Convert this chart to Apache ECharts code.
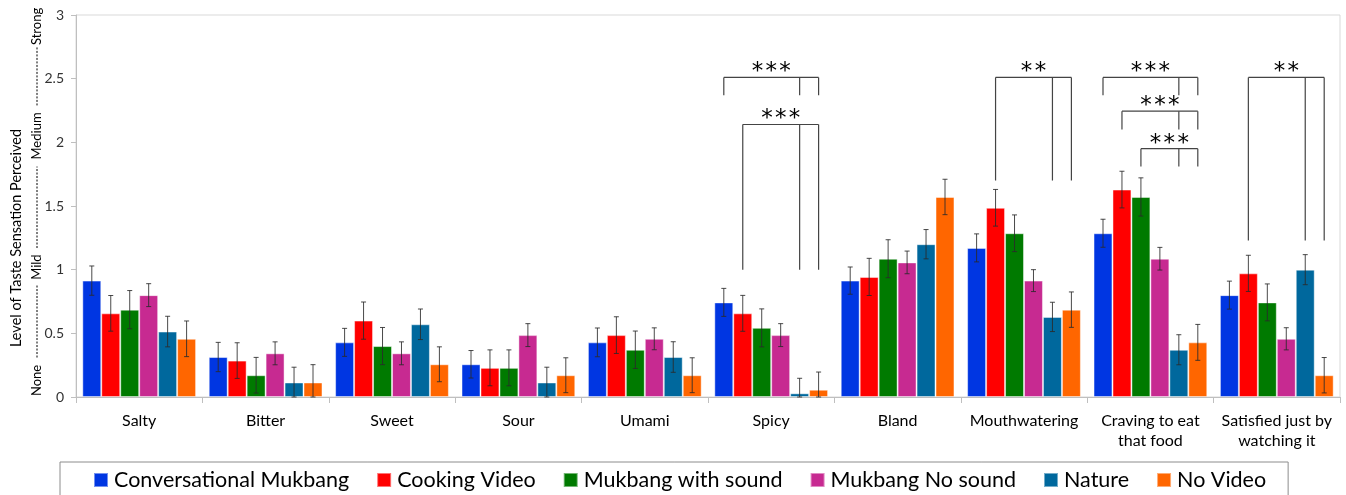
<!DOCTYPE html>
<html><head><meta charset="utf-8">
<script src="https://cdn.jsdelivr.net/npm/echarts@6/dist/echarts.min.js"></script>
<style>html,body{margin:0;padding:0;background:#fff}#c{width:1346px;height:495px}</style>
</head><body><div id="c"></div>
<script>
// ---------- DATA ----------
const categories = ['Salty','Bitter','Sweet','Sour','Umami','Spicy','Bland','Mouthwatering','Craving to eat\nthat food','Satisfied just by\nwatching it'];
const seriesNames = ['Conversational Mukbang','Cooking Video','Mukbang with sound','Mukbang No sound','Nature','No Video'];

const conversationalMukbang = [0.914,0.314,0.429,0.257,0.429,0.743,0.914,1.171,1.286,0.800];
const cookingVideo          = [0.657,0.286,0.600,0.229,0.486,0.657,0.943,1.486,1.629,0.971];
const mukbangWithSound      = [0.686,0.171,0.400,0.229,0.371,0.543,1.086,1.286,1.571,0.743];
const mukbangNoSound        = [0.800,0.343,0.343,0.486,0.457,0.486,1.057,0.914,1.086,0.457];
const nature                = [0.514,0.114,0.571,0.114,0.314,0.029,1.200,0.629,0.371,1.000];
const noVideo               = [0.457,0.114,0.257,0.171,0.171,0.057,1.571,0.686,0.429,0.171];

const errConversational = [0.115,0.115,0.110,0.108,0.113,0.110,0.107,0.110,0.110,0.110];
const errCooking        = [0.140,0.140,0.146,0.141,0.144,0.141,0.146,0.144,0.144,0.142];
const errWithSound      = [0.150,0.140,0.146,0.141,0.147,0.149,0.149,0.144,0.150,0.145];
const errNoSound        = [0.090,0.090,0.090,0.090,0.086,0.090,0.089,0.086,0.089,0.087];
const errNature         = [0.120,0.120,0.120,0.120,0.120,0.118,0.115,0.115,0.118,0.118];
const errNoVideo        = [0.140,0.140,0.137,0.137,0.137,0.139,0.139,0.139,0.141,0.139];

const yTickMin = 0, yTickMax = 3, yTickStep = 0.5;
const scaleWords = ['None','Mild','Medium','Strong'];
const yAxisTitle = 'Level of Taste Sensation Perceived';

// significance brackets: category index, bars [left, mid, right] (series indices), bracket level, leg end level, stars
const brackets = [
  {cat:5, bars:[0,4,5], y:2.51, leg:2.37, stars:'***'},
  {cat:5, bars:[1,4,5], y:2.14, leg:1.00, stars:'***'},
  {cat:7, bars:[1,4,5], y:2.51, leg:1.70, stars:'**'},
  {cat:8, bars:[0,4,5], y:2.51, leg:2.37, stars:'***'},
  {cat:8, bars:[1,4,5], y:2.245, leg:2.10, stars:'***'},
  {cat:8, bars:[2,4,5], y:1.95, leg:1.81, stars:'***'},
  {cat:9, bars:[1,4,5], y:2.51, leg:1.23, stars:'**'}
];

// ---------- STYLE / LAYOUT ----------
const colors = ['#0036E2','#FF0000','#007A00','#C72A91','#00689D','#FF6600'];
const FONT = 'Lato';
const CAT_GAP = 0.10;
const values = [conversationalMukbang,cookingVideo,mukbangWithSound,mukbangNoSound,nature,noVideo];
const errs = [errConversational,errCooking,errWithSound,errNoSound,errNature,errNoVideo];

function barCenter(api, cat, s){
  const c = api.coord([cat, 0]);
  const bw = api.size([1, 0])[0];
  const total = bw * (1 - CAT_GAP);
  const w = total / 6;
  return c[0] - total / 2 + w * (s + 0.5);
}

const errData = [];
values.forEach((arr, s) => arr.forEach((v, i) => errData.push([i, s, v, errs[s][i]])));

const chart = echarts.init(document.getElementById('c'));
const barSeries = seriesNames.map((n, s) => ({
  name: n, type: 'bar', data: values[s],
  barGap: '0%', barCategoryGap: (CAT_GAP*100)+'%',
  itemStyle: {color: colors[s], borderColor: 'rgba(255,255,255,0.45)', borderWidth: 1},
  emphasis: {disabled: true}
}));

chart.setOption({
  animation: false,
  color: colors,
  textStyle: {fontFamily: FONT},
  grid: {left: 76, right: 6, top: 15, bottom: 98, show: true, borderColor: '#d9d9d9', borderWidth: 1},
  legend: {
    data: seriesNames, left: 60, top: 462,
    padding: [7, 22, 20, 33],
    itemWidth: 14, itemHeight: 14, itemGap: 27, icon: 'rect',
    borderColor: '#8c8c8c', borderWidth: 1,
    textStyle: {fontSize: 21.5, color: '#000', fontFamily: FONT, padding: [0,0,0,1]}
  },
  xAxis: {
    type: 'category', data: categories,
    axisLine: {lineStyle: {color: '#bfbfbf'}},
    axisTick: {show: true, length: 6, lineStyle: {color: '#bfbfbf'}},
    axisLabel: {interval: 0, fontSize: 16, lineHeight: 20, color: '#000', margin: 14, fontFamily: FONT}
  },
  yAxis: {
    type: 'value', min: yTickMin, max: yTickMax, interval: yTickStep,
    axisLine: {show: true, lineStyle: {color: '#bfbfbf'}},
    axisTick: {show: true, length: 5, lineStyle: {color: '#bfbfbf'}},
    splitLine: {show: false},
    axisLabel: {fontSize: 14, color: '#333', margin: 12, fontFamily: FONT}
  },
  series: barSeries.concat([
    {
      type: 'custom', name: 'err', data: errData, encode: {x: 0, y: 2}, z: 5, silent: true,
      renderItem: function(params, api){
        const i = api.value(0), s = api.value(1), v = api.value(2), e = api.value(3);
        const x = barCenter(api, i, s);
        const top = api.coord([i, v + e])[1];
        const bot = api.coord([i, Math.max(0, v - e)])[1];
        const st = {stroke: '#2a2a2a', lineWidth: 1, opacity: 0.85};
        return {type: 'group', children: [
          {type: 'line', shape: {x1: x, y1: top, x2: x, y2: bot}, style: st},
          {type: 'line', shape: {x1: x - 2.5, y1: top, x2: x + 2.5, y2: top}, style: st},
          {type: 'line', shape: {x1: x - 2.5, y1: bot, x2: x + 2.5, y2: bot}, style: st}
        ]};
      }
    },
    {
      type: 'custom', name: 'sig', data: brackets.map(b => [b.cat, b.y]), encode: {x: 0, y: 1}, z: 6, silent: true,
      renderItem: function(params, api){
        const b = brackets[params.dataIndex];
        const xs = b.bars.map(s => barCenter(api, b.cat, s));
        const yb = api.coord([b.cat, b.y])[1];
        const yl = api.coord([b.cat, b.leg])[1];
        const st = {stroke: '#444', lineWidth: 1.2};
        const ch = [{type: 'line', shape: {x1: Math.min(...xs), y1: yb, x2: Math.max(...xs), y2: yb}, style: st}];
        xs.forEach(x => ch.push({type: 'line', shape: {x1: x, y1: yb, x2: x, y2: yl}, style: st}));
        ch.push({type: 'text', x: (Math.min(...xs) + Math.max(...xs)) / 2, y: yb - 5,
          style: {text: b.stars.split('').join('\u200A'), fontSize: 23, fontFamily: 'DejaVu Sans', fill: '#000', align: 'center', verticalAlign: 'middle'}});
        return {type: 'group', children: ch};
      }
    }
  ])
});

// side scale words (None / Mild / Medium / Strong) with dashed connectors
const wordLevels = [0.13, 1.02, 2.05, 2.91];
const dashLevels = [[0.31, 0.88], [1.17, 1.81], [2.29, 2.75]];
const py = v => chart.convertToPixel({yAxisIndex: 0}, v);
const g = [];
g.push({type: 'text', x: 16, y: 238, rotation: Math.PI / 2,
  style: {text: yAxisTitle, fontSize: 14.5, fontFamily: FONT, fill: '#000', align: 'center', verticalAlign: 'middle'}});
scaleWords.forEach((w, k) => g.push({type: 'text', x: 37, y: py(wordLevels[k]), rotation: Math.PI / 2,
  style: {text: w, fontSize: 13, fontFamily: FONT, fill: '#000', align: 'center', verticalAlign: 'middle'}}));
dashLevels.forEach(d => g.push({type: 'line', shape: {x1: 37, y1: py(d[0]), x2: 37, y2: py(d[1])},
  style: {stroke: '#000', lineWidth: 1, lineDash: [2, 1.5]}}));
chart.setOption({graphic: g});
</script></body></html>
